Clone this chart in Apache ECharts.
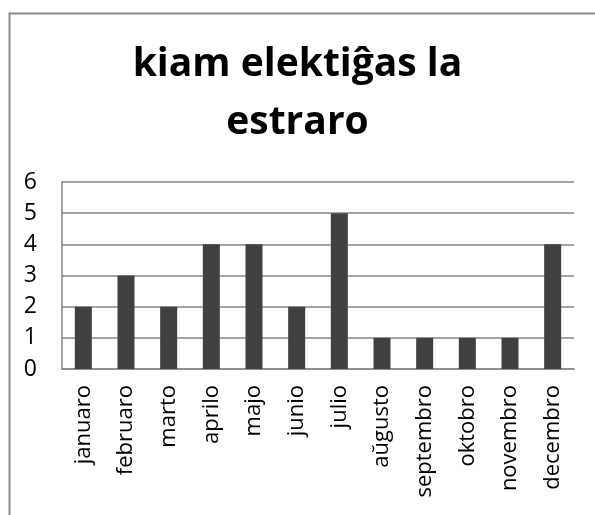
<!DOCTYPE html>
<html><head><meta charset="utf-8">
<script src="https://cdn.jsdelivr.net/npm/echarts@6/dist/echarts.min.js"></script>
<style>html,body{margin:0;padding:0;background:#fff}#c{width:595px;height:515px}</style>
</head><body><div id="c"></div>
<script>
const titleText = "kiam elektiĝas la\nestraro";
const categories = ["januaro","februaro","marto","aprilo","majo","junio","julio","aŭgusto","septembro","oktobro","novembro","decembro"];
const values = [2,3,2,4,4,2,5,1,1,1,1,4];
const yTicks = [0,1,2,3,4,5,6];

const chart = echarts.init(document.getElementById('c'));
const font = '"Open Sans", "Noto Sans", sans-serif';
chart.setOption({
  animation: false,
  backgroundColor: '#fff',
  graphic: [{
    type: 'rect', left: 7, top: 11, z: 100,
    shape: {width: 620, height: 540},
    style: {fill: 'none', stroke: '#898989', lineWidth: 2}
  }],
  title: {
    text: titleText, left: 'center', top: 31,
    textStyle: {fontFamily: font, fontWeight: 'bold', fontSize: 39, lineHeight: 58, color: '#000'}
  },
  grid: {left: 62, right: 21, top: 182, bottom: 146, containLabel: false},
  xAxis: {
    type: 'category', data: categories,
    axisLine: {lineStyle: {color: '#868686', width: 1.5}},
    axisTick: {show: false},
    axisLabel: {rotate: 90, margin: 16, fontFamily: font, fontSize: 22, color: '#000', interval: 0}
  },
  yAxis: {
    type: 'value', min: yTicks[0], max: yTicks[yTicks.length-1], interval: 1,
    axisLine: {show: true, lineStyle: {color: '#868686', width: 1.5}},
    axisTick: {show: false},
    splitLine: {lineStyle: {color: '#868686', width: 1.5}},
    axisLabel: {margin: 25, fontFamily: font, fontSize: 23, color: '#000'}
  },
  series: [{
    type: 'bar', data: values, barWidth: 17,
    itemStyle: {color: '#404040'}
  }]
});
</script></body></html>
